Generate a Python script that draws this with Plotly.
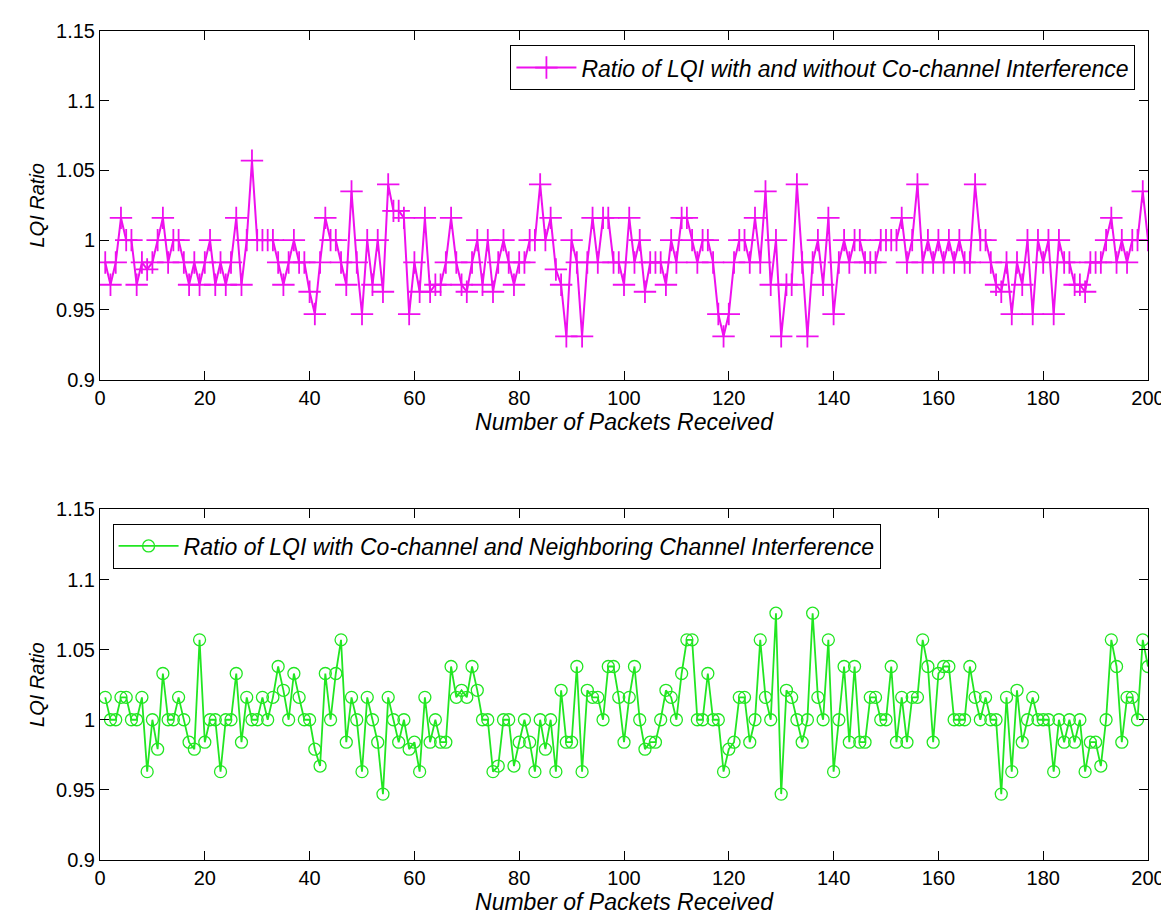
import plotly.graph_objects as go

packets = list(range(1, 201))

ratio_cochannel = [
    0.984, 0.968, 0.984, 1.016, 1.0, 1.0, 0.968, 0.984, 0.979, 0.984,
    1.0, 1.016, 0.984, 1.0, 1.0, 0.984, 0.968, 0.984, 0.968, 0.984,
    1.0, 0.968, 0.984, 0.968, 0.984, 1.016, 0.968, 1.0, 1.057, 1.0,
    1.0, 1.0, 1.0, 0.984, 0.968, 0.984, 1.0, 0.984, 0.984, 0.963,
    0.947, 0.984, 1.016, 1.0, 1.0, 0.984, 0.968, 1.035, 0.984, 0.947,
    1.0, 0.968, 1.0, 0.963, 1.04, 1.021, 1.021, 1.016, 0.947, 0.984,
    0.963, 1.016, 0.963, 0.968, 0.968, 0.984, 1.016, 0.984, 0.968, 0.963,
    0.984, 1.0, 0.968, 1.0, 0.963, 0.984, 1.0, 0.984, 0.968, 0.984,
    0.984, 1.0, 1.0, 1.04, 1.0, 1.016, 0.979, 0.968, 0.931, 1.0,
    0.984, 0.931, 0.984, 1.016, 0.984, 1.016, 1.016, 0.984, 0.984, 0.968,
    1.016, 0.984, 1.0, 0.963, 0.984, 0.984, 0.984, 0.968, 1.0, 0.984,
    1.016, 1.016, 1.0, 0.984, 1.0, 1.0, 0.984, 0.947, 0.931, 0.947,
    0.984, 1.0, 1.0, 0.984, 1.016, 0.984, 1.035, 0.968, 1.0, 0.931,
    0.968, 0.968, 1.04, 0.984, 0.931, 0.984, 1.0, 0.968, 1.016, 0.947,
    0.984, 1.0, 0.984, 1.0, 1.0, 0.984, 0.984, 0.984, 1.0, 1.0,
    1.0, 1.0, 1.016, 0.984, 1.0, 1.04, 0.984, 1.0, 0.984, 1.0,
    0.984, 1.0, 0.984, 1.0, 0.984, 0.984, 1.04, 1.0, 1.0, 0.984,
    0.968, 0.963, 0.984, 0.947, 0.984, 0.968, 1.0, 0.947, 1.0, 0.984,
    1.0, 0.947, 1.0, 0.984, 0.984, 0.968, 0.968, 0.963, 0.984, 0.984,
    0.984, 1.0, 1.016, 0.984, 1.0, 0.984, 1.0, 1.0, 1.035, 1.0,
]

ratio_neighbor = [
    1.016, 1.0, 1.0, 1.016, 1.016, 1.0, 1.0, 1.016, 0.963, 1.0,
    0.979, 1.033, 1.0, 1.0, 1.016, 1.0, 0.984, 0.979, 1.057, 0.984,
    1.0, 1.0, 0.963, 1.0, 1.0, 1.033, 0.984, 1.016, 1.0, 1.0,
    1.016, 1.0, 1.016, 1.038, 1.021, 1.0, 1.033, 1.016, 1.0, 1.0,
    0.979, 0.967, 1.033, 1.0, 1.033, 1.057, 0.984, 1.016, 1.0, 0.963,
    1.016, 1.0, 0.984, 0.947, 1.016, 1.0, 0.984, 1.0, 0.979, 0.984,
    0.963, 1.016, 0.984, 1.0, 0.984, 0.984, 1.038, 1.016, 1.021, 1.016,
    1.038, 1.021, 1.0, 1.0, 0.963, 0.967, 1.0, 1.0, 0.967, 0.984,
    1.0, 0.984, 0.963, 1.0, 0.979, 1.0, 0.963, 1.021, 0.984, 0.984,
    1.038, 0.963, 1.021, 1.016, 1.016, 1.0, 1.038, 1.038, 1.016, 0.984,
    1.016, 1.038, 1.0, 0.979, 0.984, 0.984, 1.0, 1.021, 1.016, 1.0,
    1.033, 1.057, 1.057, 1.0, 1.0, 1.033, 1.0, 1.0, 0.963, 0.979,
    0.984, 1.016, 1.016, 0.984, 1.0, 1.057, 1.016, 1.0, 1.076, 0.947,
    1.021, 1.016, 1.0, 0.984, 1.0, 1.076, 1.016, 1.0, 1.057, 0.963,
    1.0, 1.038, 0.984, 1.038, 0.984, 0.984, 1.016, 1.016, 1.0, 1.0,
    1.038, 0.984, 1.016, 0.984, 1.016, 1.016, 1.057, 1.038, 0.984, 1.033,
    1.038, 1.038, 1.0, 1.0, 1.0, 1.038, 1.016, 1.0, 1.016, 1.0,
    1.0, 0.947, 1.016, 0.963, 1.021, 0.984, 1.0, 1.016, 1.0, 1.0,
    1.0, 0.963, 1.0, 0.984, 1.0, 0.984, 1.0, 0.963, 0.984, 0.984,
    0.967, 1.0, 1.057, 1.038, 0.984, 1.016, 1.016, 1.0, 1.057, 1.038,
]

x_ticks = [0, 20, 40, 60, 80, 100, 120, 140, 160, 180, 200]
y_ticks = [0.9, 0.95, 1.0, 1.05, 1.1, 1.15]
y_tick_labels = ["0.9", "0.95", "1", "1.05", "1.1", "1.15"]

name_top = "Ratio of LQI with and without Co-channel Interference"
name_bottom = "Ratio of LQI with Co-channel and Neighboring Channel Interference"
x_title = "Number of Packets Received"
y_title = "LQI Ratio"

MAGENTA = "#ee10ee"
GREEN = "#22e622"
FONT = "Liberation Sans, Arial, sans-serif"

fig = go.Figure()
fig.add_trace(go.Scatter(
    x=packets, y=ratio_cochannel, mode="lines+markers", name=name_top,
    line=dict(color=MAGENTA, width=2),
    marker=dict(symbol="cross-thin", size=16, color=MAGENTA,
                line=dict(color=MAGENTA, width=1.8)),
    xaxis="x", yaxis="y", legend="legend",
))
fig.add_trace(go.Scatter(
    x=packets, y=ratio_neighbor, mode="lines+markers", name=name_bottom,
    line=dict(color=GREEN, width=1.8),
    marker=dict(symbol="circle-open", size=12, color=GREEN,
                line=dict(color=GREEN, width=1.3)),
    xaxis="x2", yaxis="y2", legend="legend2",
))

common_x = dict(
    range=[0, 200], tickvals=x_ticks, ticks="inside", ticklen=9,
    showline=True, linecolor="black", linewidth=1, mirror="ticks",
    showgrid=False, zeroline=False, tickcolor="black",
    tickfont=dict(family=FONT, size=20, color="black"),
    title=dict(text=x_title, font=dict(family=FONT, size=23, color="black", style="italic"),
               standoff=2),
)
common_y = dict(
    range=[0.9, 1.15], tickvals=y_ticks, ticktext=y_tick_labels, ticks="inside", ticklen=9,
    showline=True, linecolor="black", linewidth=1, mirror="ticks",
    showgrid=False, zeroline=False, tickcolor="black",
    tickfont=dict(family=FONT, size=20, color="black"),
    title=dict(text=y_title, font=dict(family=FONT, size=20, color="black", style="italic"),
               standoff=6),
)

H = 915
top_y0, top_y1 = 22, 371
bot_y0, bot_y1 = 501, 852
mt, mb = top_y0, H - bot_y1
ph = bot_y1 - top_y0

fig.update_layout(
    width=1169, height=915,
    paper_bgcolor="white", plot_bgcolor="white",
    margin=dict(l=92, r=24, t=mt, b=mb),
    showlegend=True,
    xaxis=dict(domain=[0, 1], anchor="y", **common_x),
    yaxis=dict(domain=[(bot_y1 - top_y1) / ph, 1], anchor="x", **common_y),
    xaxis2=dict(domain=[0, 1], anchor="y2", **common_x),
    yaxis2=dict(domain=[0, (bot_y1 - bot_y0) / ph], anchor="x2", **common_y),
    legend=dict(
        x=0.988, y=0.983, xanchor="right", yanchor="top",
        bgcolor="white", bordercolor="black", borderwidth=1,
        font=dict(family=FONT, size=23, color="black", style="italic"),
        itemwidth=60,
    ),
    legend2=dict(
        x=0.012, y=(bot_y1 - bot_y0) / ph - 0.017, xanchor="left", yanchor="top",
        bgcolor="white", bordercolor="black", borderwidth=1,
        font=dict(family=FONT, size=23, color="black", style="italic"),
        itemwidth=60,
    ),
)

fig.write_html("out.html")
